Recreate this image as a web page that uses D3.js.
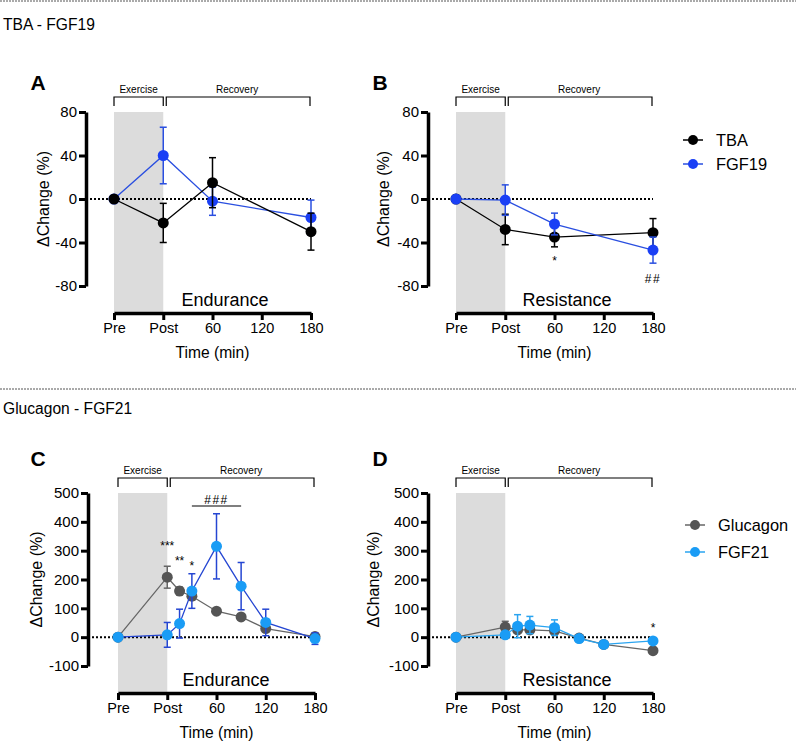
<!DOCTYPE html>
<html><head><meta charset="utf-8">
<script src="https://cdn.jsdelivr.net/npm/d3@7"></script>
<style>body{margin:0;background:#fff}svg{display:block;font-family:"Liberation Sans",Arial,Helvetica,sans-serif}</style>
</head><body><svg id="c" width="796" height="744"></svg>
<script>
// ---- data ----
const xTickValues = [-60, 0, 60, 120, 180];
const xTickLabels = ["Pre", "Post", "60", "120", "180"];
const yTicksTop = [80, 40, 0, -40, -80];
const yTicksBottom = [500, 400, 300, 200, 100, 0, -100];

const timesTop = [-60, 0, 60, 180];
const tbaEndurance = [0, -22, 15, -30];
const tbaEnduranceErr = [0, 18, 23, 17];
const fgf19Endurance = [0, 40, -2, -17];
const fgf19EnduranceErr = [0, 26, 13, 16];
const tbaResistance = [0, -28, -35, -31];
const tbaResistanceErr = [0, 14, 9, 13];
const fgf19Resistance = [0, -1, -23, -47];
const fgf19ResistanceErr = [0, 14, 10, 12];

const timesBottom = [-60, 0, 15, 30, 60, 90, 120, 180];
const glucagonEndurance = [0, 208, 160, 142, 90, 70, 30, 2];
const glucagonEnduranceErr = [0, 38, 14, 14, 8, 8, 8, 6];
const fgf21Endurance = [0, 8, 47, 160, 315, 177, 51, -5];
const fgf21EnduranceErr = [0, 43, 50, 60, 113, 82, 46, 20];
const glucagonResistance = [0, 35, 25, 25, 22, -3, -25, -47];
const glucagonResistanceErr = [0, 20, 8, 8, 8, 6, 6, 6];
const fgf21Resistance = [0, 8, 38, 42, 33, -5, -25, -13];
const fgf21ResistanceErr = [0, 4, 40, 30, 27, 6, 6, 6];

const seriesNamesTop = ["TBA", "FGF19"];
const seriesNamesBottom = ["Glucagon", "FGF21"];

// annotations: [x, y, text]
const annB = [[60, -55, "*"], [180, -72, "##"]];
const annC = [[0, 323, "***"], [15, 271, "**"], [30, 253, "*"], [60, 483, "###"]];
const annCLine = [30, 90, 455];
const annD = [[180, 38, "*"]];

// ---- styles ----
const C = {
  tba: {marker: "#000", line: "#000"},
  fgf19: {marker: "#1a3ff5", line: "#2a4fe0"},
  glu: {marker: "#555", line: "#666"},
  fgf21C: {marker: "#1a9cf5", line: "#2546d2"},
  fgf21D: {marker: "#1a9cf5", line: "#2aa4f0"}
};

const svg = d3.select("#c");

// separators and section titles
[1, 389].forEach(y => svg.append("line").attr("x1", 0).attr("x2", 796).attr("y1", y).attr("y2", y)
  .attr("stroke", "#555").attr("stroke-width", 1).attr("stroke-dasharray", "2,1"));
svg.append("text").attr("x", 3).attr("y", 30).attr("font-size", 15.6).text("TBA - FGF19");
svg.append("text").attr("x", 3).attr("y", 414).attr("font-size", 15.6).text("Glucagon - FGF21");

function panel(p) {
  const g = svg.append("g");
  const x = d3.scaleLinear().domain([-60, 180]).range([p.x0, p.x1]);
  const y = d3.scaleLinear().domain([p.yTicks[p.yTicks.length - 1], p.yTicks[0]]).range([p.yb, p.yt]);

  // shading
  g.append("rect").attr("x", x(-60)).attr("y", p.yt).attr("width", x(0) - x(-60))
    .attr("height", p.xAxisY - p.yt).attr("fill", "#dcdcdc");

  // brackets
  const bTop = p.yt - 15, bBot = p.yt - 6;
  const br = (a, b) => g.append("path")
    .attr("d", `M${a},${bBot}V${bTop}H${b}V${bBot}`).attr("fill", "none")
    .attr("stroke", "#000").attr("stroke-width", 1.2);
  br(x(-60), x(0));
  br(x(0) + 3, x(180) - 1);
  g.append("text").attr("x", (x(-60) + x(0)) / 2).attr("y", bTop - 4).attr("text-anchor", "middle")
    .attr("font-size", 10).text("Exercise");
  g.append("text").attr("x", (x(0) + x(180)) / 2).attr("y", bTop - 4).attr("text-anchor", "middle")
    .attr("font-size", 10).text("Recovery");

  // zero dotted
  g.append("line").attr("x1", p.yAxisX).attr("x2", x(180)).attr("y1", y(0)).attr("y2", y(0))
    .attr("stroke", "#000").attr("stroke-width", 2).attr("stroke-dasharray", "2,2");

  // y axis
  const ya = g.append("g").attr("transform", `translate(${p.yAxisX},0)`)
    .call(d3.axisLeft(y).tickValues(p.yTicks).tickFormat(d => String(d)).tickSize(7).tickSizeOuter(0).tickPadding(2));
  ya.select(".domain").attr("stroke-width", 3.5);
  ya.selectAll(".tick line").attr("stroke-width", 3);
  ya.selectAll(".tick text").attr("font-size", 15).attr("font-family", "Liberation Sans, Arial, sans-serif").attr("fill", "#000");

  // x axis
  const xa = g.append("g").attr("transform", `translate(0,${p.xAxisY})`)
    .call(d3.axisBottom(x).tickValues(xTickValues).tickFormat((d, i) => xTickLabels[i]).tickSize(7).tickSizeOuter(0).tickPadding(3));
  xa.select(".domain").attr("stroke-width", 3.5);
  xa.selectAll(".tick line").attr("stroke-width", 3);
  xa.selectAll(".tick text").attr("font-size", 14.5).attr("font-family", "Liberation Sans, Arial, sans-serif").attr("fill", "#000");

  // labels
  g.append("text").attr("x", (x(-60) + x(180)) / 2).attr("y", p.xAxisY + 45).attr("text-anchor", "middle")
    .attr("font-size", 15.6).text("Time (min)");
  g.append("text").attr("x", p.condX).attr("y", p.xAxisY - 7).attr("text-anchor", "middle")
    .attr("font-size", 18).text(p.cond);
  g.append("text").attr("transform", `translate(${p.yLabX},${(p.yt + p.yb) / 2}) rotate(-90)`)
    .attr("text-anchor", "middle").attr("font-size", 16).text("\u0394Change (%)");
  g.append("text").attr("x", p.letterX).attr("y", p.letterY).attr("text-anchor", "middle")
    .attr("font-size", 21).attr("font-weight", "bold").text(p.letter);

  // series
  p.series.forEach(s => {
    const pts = p.times.map((t, i) => ({t, v: s.vals[i], e: s.errs[i]}));
    const eg = g.append("g").attr("stroke", s.col.line).attr("stroke-width", 1.5);
    pts.filter(d => d.e > 0).forEach(d => {
      eg.append("line").attr("x1", x(d.t)).attr("x2", x(d.t)).attr("y1", y(d.v - d.e)).attr("y2", y(d.v + d.e));
      [d.v - d.e, d.v + d.e].forEach(v => eg.append("line").attr("x1", x(d.t) - 3.5).attr("x2", x(d.t) + 3.5)
        .attr("y1", y(v)).attr("y2", y(v)));
    });
    g.append("path").datum(pts).attr("fill", "none").attr("stroke", s.col.line).attr("stroke-width", 1.3)
      .attr("d", d3.line().x(d => x(d.t)).y(d => y(d.v)));
    g.selectAll(null).data(pts).enter().append("circle")
      .attr("cx", d => x(d.t)).attr("cy", d => y(d.v)).attr("r", 5.5).attr("fill", s.col.marker);
  });

  // annotations
  (p.ann || []).forEach(a => g.append("text").attr("x", x(a[0])).attr("y", y(a[1]) + 6)
    .attr("text-anchor", "middle").attr("font-size", 12).attr("letter-spacing", a[2][0] === "#" ? 1.5 : 0).text(a[2]));
  if (p.annLine) g.append("line").attr("x1", x(p.annLine[0])).attr("x2", x(p.annLine[1]))
    .attr("y1", y(p.annLine[2])).attr("y2", y(p.annLine[2])).attr("stroke", "#000").attr("stroke-width", 1.2);

  return {x, y};
}

function legend(x0, ys, names, cols) {
  names.forEach((n, i) => {
    svg.append("line").attr("x1", x0 - 10).attr("x2", x0 + 10).attr("y1", ys[i]).attr("y2", ys[i])
      .attr("stroke", cols[i].line).attr("stroke-width", 1.5);
    svg.append("circle").attr("cx", x0).attr("cy", ys[i]).attr("r", 5).attr("fill", cols[i].marker);
    svg.append("text").attr("x", x0 + 23).attr("y", ys[i] + 6).attr("font-size", 16.4).text(n);
  });
}

panel({x0: 114, x1: 311, yt: 112, yb: 286, xAxisY: 313, yAxisX: 86, yTicks: yTicksTop,
  cond: "Endurance", condX: 225, yLabX: 49, letter: "A", letterX: 38, letterY: 90, times: timesTop,
  series: [{vals: fgf19Endurance, errs: fgf19EnduranceErr, col: C.fgf19},
           {vals: tbaEndurance, errs: tbaEnduranceErr, col: C.tba}]});
panel({x0: 456, x1: 653, yt: 112, yb: 286, xAxisY: 313, yAxisX: 428, yTicks: yTicksTop,
  cond: "Resistance", condX: 567, yLabX: 389, letter: "B", letterX: 380, letterY: 90, times: timesTop,
  series: [{vals: tbaResistance, errs: tbaResistanceErr, col: C.tba},
           {vals: fgf19Resistance, errs: fgf19ResistanceErr, col: C.fgf19}], ann: annB});
panel({x0: 118, x1: 315, yt: 493, yb: 666, xAxisY: 693, yAxisX: 88, yTicks: yTicksBottom,
  cond: "Endurance", condX: 226, yLabX: 42, letter: "C", letterX: 38, letterY: 466, times: timesBottom,
  series: [{vals: glucagonEndurance, errs: glucagonEnduranceErr, col: C.glu},
           {vals: fgf21Endurance, errs: fgf21EnduranceErr, col: C.fgf21C}], ann: annC, annLine: annCLine});
panel({x0: 456, x1: 653, yt: 493, yb: 666, xAxisY: 693, yAxisX: 428, yTicks: yTicksBottom,
  cond: "Resistance", condX: 567, yLabX: 379, letter: "D", letterX: 380, letterY: 466, times: timesBottom,
  series: [{vals: glucagonResistance, errs: glucagonResistanceErr, col: C.glu},
           {vals: fgf21Resistance, errs: fgf21ResistanceErr, col: C.fgf21D}], ann: annD});

legend(693, [140, 164], seriesNamesTop, [C.tba, C.fgf19]);
legend(695, [525, 552], seriesNamesBottom, [C.glu, C.fgf21D]);
</script></body></html>
